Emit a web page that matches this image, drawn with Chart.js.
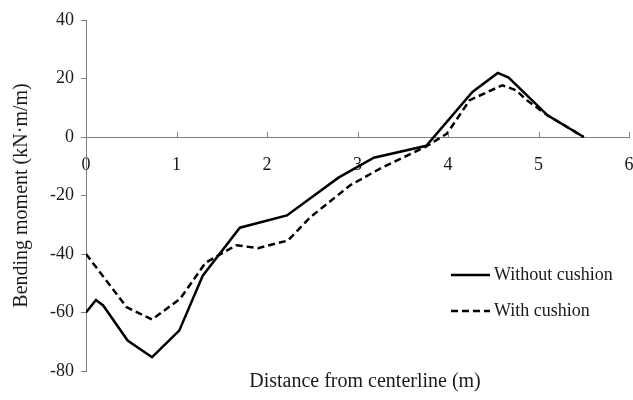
<!DOCTYPE html>
<html>
<head>
<meta charset="utf-8">
<script src="https://cdn.jsdelivr.net/npm/chart.js@4.4.1/dist/chart.umd.min.js"></script>
<style>
  html, body { margin: 0; padding: 0; background: #ffffff; }
  #wrap { width: 633px; height: 400px; position: relative; }
</style>
</head>
<body>
<div id="wrap"><canvas id="c" width="633" height="400"></canvas></div>
<script>
// ---- Data ----
const seriesNames = ["Without cushion", "With cushion"];

const withoutX = [0, 0.11, 0.19, 0.46, 0.73, 1.03, 1.29, 1.70, 2.22, 2.79, 3.18, 3.76, 4.27, 4.55, 4.67, 5.10, 5.50];
const withoutY = [-60, -55.7, -57.6, -69.6, -75.3, -66.2, -47.4, -31, -26.8, -13.9, -7.1, -3, 15.4, 21.9, 20.3, 7.4, 0];

const withX = [0, 0.45, 0.73, 1.04, 1.32, 1.66, 1.90, 2.23, 2.48, 2.92, 3.25, 3.75, 3.99, 4.24, 4.60, 4.75, 4.87, 5.10, 5.50];
const withY = [-40, -58.2, -62.4, -55.3, -43, -37, -38, -35.4, -27.4, -16.5, -10.8, -3.4, 1.2, 12.6, 17.7, 16, 12.6, 7.4, 0];

const xTicks = [0, 1, 2, 3, 4, 5, 6];
const yTicks = [-80, -60, -40, -20, 0, 20, 40];

const xTitle = "Distance from centerline (m)";
const yTitle = "Bending moment (kN\u00B7m/m)";

const toPts = (xs, ys) => xs.map((x, i) => ({ x: x, y: ys[i] }));

const FONT = "'Liberation Serif', 'Times New Roman', serif";
const AXIS_COLOR = "#7f7f7f";
const TEXT_COLOR = "#1a1a1a";

const extrasPlugin = {
  id: 'extras',
  afterDraw(chart) {
    const ctx = chart.ctx;
    const xs = chart.scales.x, ys = chart.scales.y;
    const y0 = ys.getPixelForValue(0);
    ctx.save();
    // upward tick marks on x axis
    ctx.strokeStyle = AXIS_COLOR;
    ctx.lineWidth = 1;
    xTicks.forEach(v => {
      if (v === 0) return;
      const px = Math.round(xs.getPixelForValue(v)) + 0.5;
      ctx.beginPath();
      ctx.moveTo(px, y0);
      ctx.lineTo(px, y0 - 5);
      ctx.stroke();
    });
    // x title
    ctx.fillStyle = TEXT_COLOR;
    ctx.font = "20px " + FONT;
    ctx.textAlign = 'center';
    ctx.textBaseline = 'middle';
    ctx.fillText(xTitle, 365, 382);
    // legend
    const items = [
      { label: seriesNames[0], dash: [], y: 275 },
      { label: seriesNames[1], dash: [7, 4], y: 311 }
    ];
    ctx.font = "18px " + FONT;
    ctx.textAlign = 'left';
    items.forEach(it => {
      ctx.strokeStyle = '#000000';
      ctx.lineWidth = 2.5;
      ctx.setLineDash(it.dash);
      ctx.beginPath();
      ctx.moveTo(451, it.y);
      ctx.lineTo(490, it.y);
      ctx.stroke();
      ctx.setLineDash([]);
      ctx.fillText(it.label, 494, it.y);
    });
    ctx.restore();
  }
};

new Chart(document.getElementById('c'), {
  type: 'line',
  data: {
    datasets: [
      {
        label: seriesNames[0],
        data: toPts(withoutX, withoutY),
        borderColor: '#000000',
        borderWidth: 2.5,
        pointRadius: 0,
        tension: 0,
        fill: false
      },
      {
        label: seriesNames[1],
        data: toPts(withX, withY),
        borderColor: '#000000',
        borderWidth: 2.5,
        borderDash: [7, 4],
        pointRadius: 0,
        tension: 0,
        fill: false
      }
    ]
  },
  options: {
    responsive: false,
    animation: false,
    devicePixelRatio: 1,
    layout: { padding: { left: 0, top: 20, right: 4, bottom: 29 } },
    plugins: { legend: { display: false }, tooltip: { enabled: false } },
    scales: {
      x: {
        type: 'linear',
        position: { y: 0 },
        min: 0, max: 6,
        afterBuildTicks: s => { s.ticks = xTicks.map(v => ({ value: v })); },
        afterFit: s => { s.paddingRight = 0; s.paddingLeft = 0; },
        ticks: { padding: 17, color: TEXT_COLOR, font: { family: FONT, size: 18 }, maxRotation: 0 },
        grid: { drawOnChartArea: false, drawTicks: false },
        border: { display: true, color: AXIS_COLOR, width: 1 }
      },
      y: {
        type: 'linear',
        min: -80, max: 40,
        afterBuildTicks: s => { s.ticks = yTicks.map(v => ({ value: v })); },
        afterFit: s => { s.width = 86; },
        ticks: { padding: 7, color: TEXT_COLOR, font: { family: FONT, size: 18 } },
        grid: { drawOnChartArea: false, drawTicks: true, tickLength: 5, color: AXIS_COLOR },
        border: { display: true, color: AXIS_COLOR, width: 1 },
        title: { display: true, text: yTitle, color: TEXT_COLOR, font: { family: FONT, size: 20 }, padding: { top: 10, bottom: 4 } }
      }
    }
  },
  plugins: [extrasPlugin]
});
</script>
</body>
</html>
